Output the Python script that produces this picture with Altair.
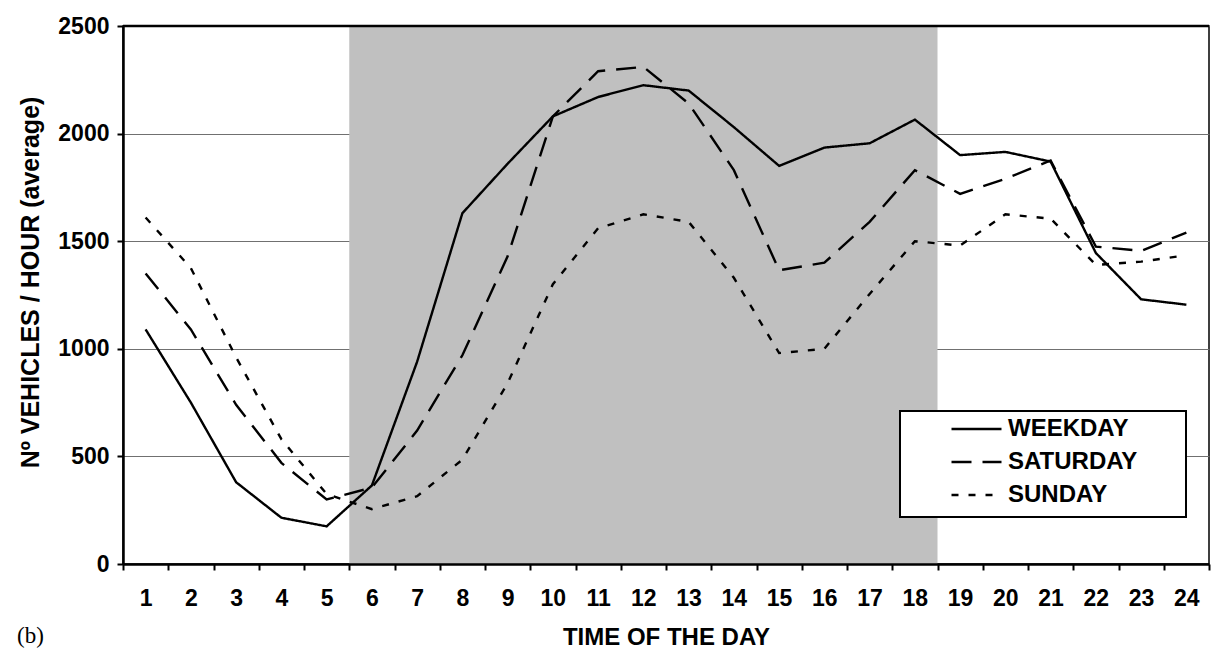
import altair as alt
import pandas as pd

hours = list(range(1, 25))
day_names = ["WEEKDAY", "SATURDAY", "SUNDAY"]
weekday = [1090, 750, 380, 215, 175, 365, 940, 1630, 1860, 2080, 2170, 2225,
           2200, 2030, 1850, 1935, 1955, 2065, 1900, 1915, 1870, 1445, 1230, 1205]
saturday = [1350, 1090, 740, 470, 300, 355, 620, 970, 1430, 2080, 2290, 2310,
            2140, 1830, 1365, 1400, 1590, 1830, 1720, 1790, 1875, 1475, 1455, 1540]
sunday = [1610, 1375, 960, 580, 325, 255, 315, 485, 840, 1300, 1560, 1625,
          1590, 1330, 980, 1000, 1255, 1500, 1480, 1625, 1605, 1390, 1405, 1435]
shade_first_hour = 6
shade_last_hour = 18
y_ticks = [0, 500, 1000, 1500, 2000, 2500]
y_max = 2500
panel_label = "(b)"
x_title = "TIME OF THE DAY"
y_title = "Nº VEHICLES / HOUR  (average)"

rows = []
for name, vals in zip(day_names, [weekday, saturday, sunday]):
    for h, v in zip(hours, vals):
        rows.append({"hour": h, "day": name, "vehicles": v})
df = pd.DataFrame(rows)

shade_df = pd.DataFrame({"start": [shade_first_hour - 1], "end": [shade_last_hour]})
top_df = pd.DataFrame({"v": [y_max]})
label_df = pd.DataFrame({"t": [panel_label]})

FONT = "Liberation Sans"
W, H = 1086, 538
yscale = alt.Scale(domain=[0, y_max], nice=False, zero=True)

shade = alt.Chart(shade_df).mark_rect(color="#c0c0c0").encode(
    x=alt.X("start:Q", scale=alt.Scale(domain=[0, len(hours)], nice=False, zero=False), axis=None),
    x2="end:Q",
    y=alt.datum(y_max),
    y2=alt.datum(0),
)

lines = alt.Chart(df).mark_line(color="black", strokeWidth=2.4).encode(
    x=alt.X(
        "hour:O", sort=hours, bandPosition=0.5,
        scale=alt.Scale(type="band", paddingInner=0, paddingOuter=0),
        axis=alt.Axis(
            title=x_title, tickBand="extent", labelAngle=0, zindex=1,
            domainColor="black", domainWidth=2.5, tickColor="black", tickWidth=2, tickSize=6,
            labelFont=FONT, labelFontSize=23, labelFontWeight="bold", labelColor="black",
            labelBaseline="middle", labelPadding=28,
            titleFont=FONT, titleFontSize=24, titleFontWeight="bold", titleColor="black",
            titleX=W / 2, titleY=73, titleBaseline="middle", titleAlign="center",
        ),
    ),
    y=alt.Y(
        "vehicles:Q", scale=yscale,
        axis=alt.Axis(
            values=y_ticks, format="d", title=y_title, grid=True, gridColor="#707070", gridWidth=1,
            domainColor="black", domainWidth=2.5, tickColor="black", tickWidth=2, tickSize=6,
            labelFont=FONT, labelFontSize=23, labelFontWeight="bold", labelColor="black",
            labelPadding=8,
            titleFont=FONT, titleFontSize=25, titleFontWeight="bold", titleColor="black",
            titleX=-93, titleY=256, titleAngle=-90, titleAlign="center", titleBaseline="middle",
        ),
    ),
    strokeDash=alt.StrokeDash(
        "day:N", sort=day_names,
        scale=alt.Scale(domain=day_names, range=[[1, 0], [20, 11], [7, 10]]),
        legend=alt.Legend(
            title="\u00a0", titleOrient="right", titlePadding=39,
            titleFontSize=10,
            orient="none", legendX=777, legendY=385, direction="vertical",
            fillColor="white", strokeColor="black", padding=10, rowPadding=9,
            clipHeight=16,
            symbolType="stroke", symbolSize=2500, symbolStrokeWidth=2.4,
            symbolStrokeColor="black", symbolOffset=40,
            labelFont=FONT, labelFontSize=24, labelFontWeight="bold", labelColor="black",
            labelOffset=5,
        ),
    ),
)

top_rule = alt.Chart(top_df).mark_rule(color="black", strokeWidth=2.5).encode(y="v:Q")

panel = alt.Chart(label_df).mark_text(
    font="Liberation Serif", fontSize=23, align="left", baseline="middle", color="black"
).encode(text="t:N", x=alt.value(17 - 123), y=alt.value(636 - 26))

chart = (
    alt.layer(shade, lines, top_rule, panel)
    .resolve_scale(x="independent")
    .properties(
        width=W, height=H,
        autosize=alt.AutoSizeParams(type="none"),
        padding={"left": 115, "top": 18, "right": 2, "bottom": 87},
    )
    .configure_view(stroke="black", strokeWidth=1.5, fill="white")
    .configure_legend(strokeWidth=2)
)

chart.save("out.html", embed_options={"renderer": "svg", "actions": False})
